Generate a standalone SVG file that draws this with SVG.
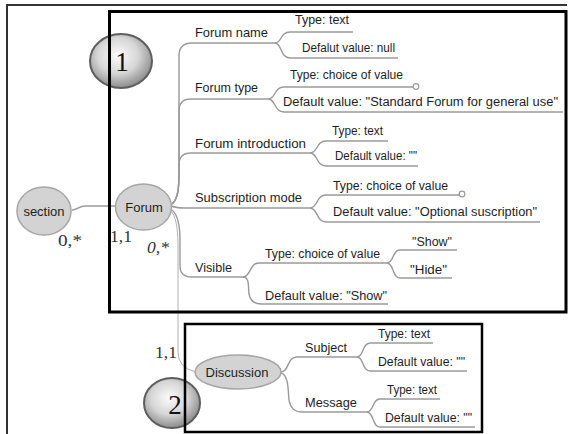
<svg xmlns="http://www.w3.org/2000/svg" width="571" height="434" viewBox="0 0 571 434">
<style>
.lbl{font-family:"Liberation Sans",Arial,sans-serif;font-size:13px;fill:#1e1e1e}
.leaf{font-family:"Liberation Sans",Arial,sans-serif;font-size:12px;fill:#1e1e1e}
.card{font-family:"Liberation Serif","Times New Roman",serif;font-size:17px;fill:#333}
.badge-t{font-family:"Liberation Serif","Times New Roman",serif;font-size:27px;fill:#111}
.node{fill:#d3d3d3;stroke:#a6a6a6;stroke-width:1.5}
.ln{fill:none;stroke:#9a9a9a;stroke-width:1.4}
.thin{fill:none;stroke:#b0b0b0;stroke-width:1}
.box{fill:none;stroke:#000}
.dot{fill:#fff;stroke:#9a9a9a;stroke-width:1.2}
</style>
<defs>
<radialGradient id="bg" cx="0.45" cy="0.4" r="0.6">
<stop offset="0" stop-color="#fbfbfb"/>
<stop offset="0.55" stop-color="#d6d6d6"/>
<stop offset="1" stop-color="#8c8c8c"/>
</radialGradient>
</defs>
<rect width="571" height="434" fill="#fff"/>
<path d="M7,434 L7,5 L567,5" fill="none" stroke="#333" stroke-width="2"/>

<g id="badge1">
<ellipse cx="121" cy="61" rx="31" ry="27" fill="url(#bg)" stroke="#5e5e5e" stroke-width="2"/>
<text class="badge-t" x="122" y="71" text-anchor="middle">1</text>
</g>
<g id="badge2">
<ellipse cx="172" cy="403" rx="28" ry="25" fill="url(#bg)" stroke="#5e5e5e" stroke-width="2"/>
<text class="badge-t" x="175" y="414" text-anchor="middle">2</text>
</g>

<g id="connectors">
<path class="ln" d="M72,210 C78,210 78,206 86,206 L116,206"/>
<path class="ln" d="M172,204 C178,199 179,188 179,172 L179,56 Q179,43 192,43 L275,43"/>
<path class="ln" d="M172,204 C178,199 179,188 179,172 L179,111 Q179,99 191,99 L268,99"/>
<path class="ln" d="M172,204 C178,199 179,188 179,172 L179,165 Q179,153 191,153 L310,153"/>
<path class="ln" d="M172,206 Q176,208 184,208 L310,208"/>
<path class="ln" d="M172,210 C178,215 180,225 180,240 L180,266 Q180,277 192,277 L243,277"/>
<path class="thin" d="M172,212 C177,220 178,232 178,250 L178,352 Q178,368 196,372"/>
<path class="ln" d="M275,43 C282,43 280,32 290,32 L353,32"/>
<path class="ln" d="M275,43 C282,43 280,58 290,58 L398,58"/>
<path class="ln" d="M268,99 C276,99 274,87 284,87 L413,87"/>
<path class="ln" d="M268,99 C276,99 274,112 284,112 L563,112"/>
<path class="ln" d="M310,153 C318,153 316,141 326,141 L388,141"/>
<path class="ln" d="M310,153 C318,153 316,166 326,166 L418,166"/>
<path class="ln" d="M310,208 C318,208 316,195 326,195 L459,195"/>
<path class="ln" d="M310,208 C318,208 316,222 326,222 L540,222"/>
<path class="ln" d="M243,277 C251,277 249,263 259,263 L387,263"/>
<path class="ln" d="M243,277 C250,277 248,288 249,294 Q251,304 261,304 L388,304"/>
<path class="ln" d="M387,263 C394,263 392,250 400,250 L457,250"/>
<path class="ln" d="M387,263 C394,263 392,278 400,278 L452,278"/>
<path class="ln" d="M281,372 C289,372 287,357 297,357 L357,357"/>
<path class="ln" d="M281,373 C289,375 288,392 289,400 Q291,412 302,412 L367,412"/>
<path class="ln" d="M357,357 C364,357 362,343 370,343 L433,343"/>
<path class="ln" d="M357,357 C364,357 362,371 370,371 L467,371"/>
<path class="ln" d="M367,412 C374,412 372,399 380,399 L440,399"/>
<path class="ln" d="M367,412 C374,412 372,427 380,427 L475,427"/>
<circle class="dot" cx="416" cy="86.5" r="2.8"/>
<circle class="dot" cx="462" cy="194" r="2.8"/>
</g>

<g id="section">
<ellipse class="node" cx="44" cy="211" rx="27" ry="24"/>
<text class="lbl" x="44" y="216" text-anchor="middle">section</text>
</g>
<g id="forum">
<ellipse class="node" cx="143.5" cy="207" rx="28" ry="23"/>
<text class="lbl" x="144" y="212" text-anchor="middle">Forum</text>
</g>
<g id="discussion">
<ellipse class="node" cx="238" cy="372" rx="43" ry="17"/>
<text class="lbl" x="237" y="377" text-anchor="middle">Discussion</text>
</g>

<g id="forum-name">
<text class="lbl" x="195" y="37" textLength="73" lengthAdjust="spacingAndGlyphs">Forum name</text>
<text class="leaf" x="295" y="24" textLength="54" lengthAdjust="spacingAndGlyphs">Type: text</text>
<text class="leaf" x="302" y="52" textLength="93" lengthAdjust="spacingAndGlyphs">Defalut value: null</text>
</g>
<g id="forum-type">
<text class="lbl" x="195" y="92" textLength="63" lengthAdjust="spacingAndGlyphs">Forum type</text>
<text class="leaf" x="290" y="79" textLength="113" lengthAdjust="spacingAndGlyphs">Type: choice of value</text>
<text class="leaf" x="283" y="106" textLength="275" lengthAdjust="spacingAndGlyphs">Default value: "Standard Forum for general use"</text>
</g>
<g id="forum-introduction">
<text class="lbl" x="195" y="148" textLength="111" lengthAdjust="spacingAndGlyphs">Forum introduction</text>
<text class="leaf" x="332" y="135" textLength="51" lengthAdjust="spacingAndGlyphs">Type: text</text>
<text class="leaf" x="335" y="160" textLength="82" lengthAdjust="spacingAndGlyphs">Default value: ""</text>
</g>
<g id="subscription-mode">
<text class="lbl" x="195" y="202" textLength="107" lengthAdjust="spacingAndGlyphs">Subscription mode</text>
<text class="leaf" x="333" y="190" textLength="115" lengthAdjust="spacingAndGlyphs">Type: choice of value</text>
<text class="leaf" x="333" y="216" textLength="204" lengthAdjust="spacingAndGlyphs">Default value: "Optional suscription"</text>
</g>
<g id="visible">
<text class="lbl" x="195" y="272" textLength="37" lengthAdjust="spacingAndGlyphs">Visible</text>
<text class="leaf" x="265" y="258" textLength="115" lengthAdjust="spacingAndGlyphs">Type: choice of value</text>
<text class="leaf" x="265" y="300" textLength="122" lengthAdjust="spacingAndGlyphs">Default value: "Show"</text>
<text class="leaf" x="412" y="246" textLength="40" lengthAdjust="spacingAndGlyphs">"Show"</text>
<text class="leaf" x="410" y="274" textLength="37" lengthAdjust="spacingAndGlyphs">"Hide"</text>
</g>
<g id="subject">
<text class="lbl" x="305" y="352" textLength="42" lengthAdjust="spacingAndGlyphs">Subject</text>
<text class="leaf" x="378" y="338" textLength="52" lengthAdjust="spacingAndGlyphs">Type: text</text>
<text class="leaf" x="378" y="366" textLength="87" lengthAdjust="spacingAndGlyphs">Default value: ""</text>
</g>
<g id="message">
<text class="lbl" x="305" y="407" textLength="52" lengthAdjust="spacingAndGlyphs">Message</text>
<text class="leaf" x="387" y="394" textLength="50" lengthAdjust="spacingAndGlyphs">Type: text</text>
<text class="leaf" x="385" y="422" textLength="87" lengthAdjust="spacingAndGlyphs">Default value: ""</text>
</g>

<g id="cardinalities">
<text class="card" x="58" y="246" textLength="24" lengthAdjust="spacingAndGlyphs">0,*</text>
<text class="card" x="110" y="242" textLength="22" lengthAdjust="spacingAndGlyphs">1,1</text>
<text class="card" x="147" y="253" font-style="italic" textLength="22" lengthAdjust="spacingAndGlyphs">0,*</text>
<text class="card" x="155" y="358" textLength="22" lengthAdjust="spacingAndGlyphs">1,1</text>
</g>

<g id="frames">
<rect class="box" x="109.5" y="11.5" width="456.5" height="300.5" stroke-width="3"/>
<rect class="box" x="185" y="324" width="297" height="108" stroke-width="2.5"/>
</g>
</svg>
